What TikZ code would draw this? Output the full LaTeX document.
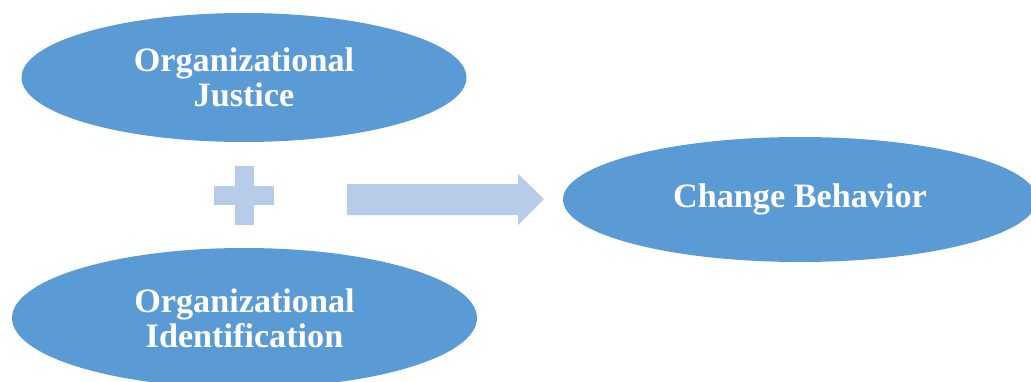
\documentclass[tikz,border=0pt]{standalone}
\usepackage{fontspec}
\setmainfont{Liberation Serif}
\usepackage{tikz}
\usetikzlibrary{shapes.geometric}
\definecolor{azulelipse}{RGB}{91,155,213}
\definecolor{azulclaro}{RGB}{183,204,233}

\begin{document}
\begin{tikzpicture}[
    x=1pt, y=1pt,
    elipse/.style={ellipse, fill=azulelipse, inner sep=0pt, text=white, align=center,
        font=\fontsize{34.2}{35}\selectfont\bfseries},
    signo/.style={fill=azulclaro}
]
\useasboundingbox (0,0) rectangle (1031,381);
\clip (0,0) rectangle (1031,381);

% Elipses de entrada
\node[elipse, minimum width=445pt, minimum height=129pt] (justicia) at (244,303.5) {Organizational\\Justice};
\node[elipse, minimum width=465pt, minimum height=140pt] (identificacion) at (244.5,63) {Organizational\\Identification};

% Elipse de salida
\node[elipse, minimum width=474pt, minimum height=125pt] (cambio) at (800,181.5) {Change Behavior};

% Signo mas
\fill[signo] (235,156) rectangle (254,215);
\fill[signo] (214,176) rectangle (274,195);

% Flecha de bloque
\fill[signo] (347,166) -- (518,166) -- (518,156) -- (544,182) -- (518,207) -- (518,197) -- (347,197) -- cycle;

\end{tikzpicture}
\end{document}
